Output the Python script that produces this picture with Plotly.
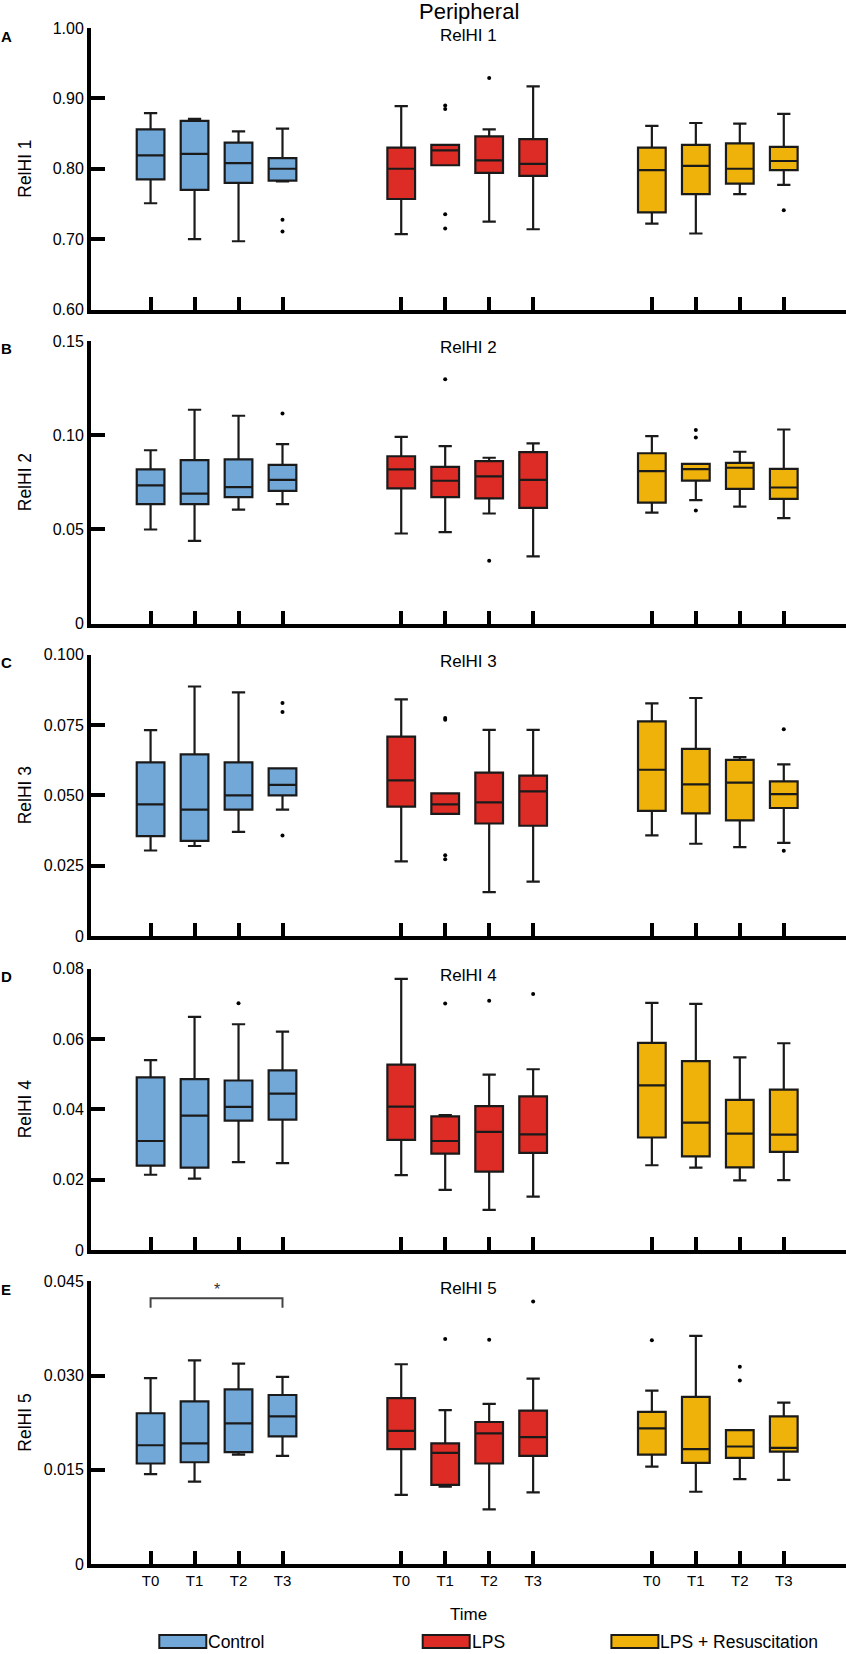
import plotly.graph_objects as go

groups = ["Control", "LPS", "LPS + Resuscitation"]
times = ["T0", "T1", "T2", "T3"]
colors = ["#72a8d8", "#dd2c25", "#efb20a"]
panel_titles = ["RelHI 1", "RelHI 2", "RelHI 3", "RelHI 4", "RelHI 5"]
panel_letters = ["A", "B", "C", "D", "E"]

# Each list: Control T0-T3, LPS T0-T3, LPS+Resus T0-T3
A_lo = [0.751, 0.700, 0.697, 0.782, 0.707, 0.805, 0.725, 0.714, 0.722, 0.708, 0.764, 0.777]
A_q1 = [0.785, 0.770, 0.780, 0.783, 0.757, 0.805, 0.794, 0.790, 0.738, 0.764, 0.779, 0.798]
A_med = [0.819, 0.821, 0.808, 0.800, 0.800, 0.826, 0.812, 0.807, 0.798, 0.804, 0.800, 0.811]
A_q3 = [0.856, 0.868, 0.837, 0.815, 0.830, 0.834, 0.846, 0.842, 0.830, 0.834, 0.836, 0.831]
A_hi = [0.879, 0.871, 0.853, 0.857, 0.889, 0.834, 0.856, 0.917, 0.861, 0.865, 0.864, 0.878]
A_out_idx = [3, 3, 5, 5, 5, 5, 6, 11]
A_out_val = [0.7275, 0.711, 0.890, 0.885, 0.7355, 0.7152, 0.929, 0.741]

B_lo = [0.0499, 0.0439, 0.0605, 0.0634, 0.0478, 0.0485, 0.0584, 0.0356, 0.0589, 0.0655, 0.0621, 0.0559]
B_q1 = [0.0634, 0.0634, 0.0671, 0.0704, 0.0717, 0.0671, 0.0664, 0.0614, 0.0642, 0.0759, 0.0715, 0.0662]
B_med = [0.0733, 0.0690, 0.0724, 0.0763, 0.0818, 0.0758, 0.0781, 0.0763, 0.0809, 0.0820, 0.0827, 0.0722]
B_q3 = [0.0818, 0.0867, 0.0871, 0.0842, 0.0888, 0.0832, 0.0862, 0.0910, 0.0904, 0.0848, 0.0853, 0.0821]
B_hi = [0.0920, 0.1135, 0.1103, 0.0952, 0.0991, 0.0942, 0.0880, 0.0956, 0.0995, 0.0848, 0.0912, 0.1030]
B_out_idx = [3, 5, 6, 9, 9, 9]
B_out_val = [0.1115, 0.1297, 0.0333, 0.1028, 0.0988, 0.0600]

C_lo = [0.0304, 0.0320, 0.0370, 0.0449, 0.0265, 0.0434, 0.0156, 0.0193, 0.0358, 0.0328, 0.0316, 0.0331]
C_q1 = [0.0355, 0.0338, 0.0449, 0.0500, 0.0460, 0.0434, 0.0400, 0.0392, 0.0445, 0.0436, 0.0411, 0.0455]
C_med = [0.0468, 0.0449, 0.0500, 0.0537, 0.0553, 0.0468, 0.0475, 0.0514, 0.0591, 0.0539, 0.0545, 0.0504]
C_q3 = [0.0617, 0.0646, 0.0617, 0.0596, 0.0709, 0.0507, 0.0581, 0.0570, 0.0763, 0.0665, 0.0626, 0.0550]
C_hi = [0.0732, 0.0887, 0.0866, 0.0596, 0.0841, 0.0507, 0.0733, 0.0733, 0.0827, 0.0846, 0.0636, 0.0610]
C_out_idx = [3, 3, 3, 5, 5, 5, 5, 11, 11]
C_out_val = [0.0828, 0.0796, 0.0357, 0.0775, 0.0769, 0.0287, 0.0273, 0.0735, 0.0303]

D_lo = [0.0214, 0.0203, 0.0250, 0.0247, 0.0213, 0.0171, 0.0114, 0.0152, 0.0241, 0.0234, 0.0198, 0.0199]
D_q1 = [0.0240, 0.0234, 0.0368, 0.0371, 0.0313, 0.0274, 0.0223, 0.0276, 0.0320, 0.0266, 0.0235, 0.0279]
D_med = [0.0310, 0.0382, 0.0407, 0.0445, 0.0408, 0.0310, 0.0336, 0.0329, 0.0468, 0.0362, 0.0331, 0.0328]
D_q3 = [0.0491, 0.0486, 0.0482, 0.0511, 0.0527, 0.0380, 0.0409, 0.0437, 0.0589, 0.0537, 0.0427, 0.0456]
D_hi = [0.0540, 0.0663, 0.0642, 0.0621, 0.0771, 0.0384, 0.0499, 0.0514, 0.0703, 0.0700, 0.0548, 0.0588]
D_out_idx = [2, 5, 6, 7]
D_out_val = [0.0702, 0.0701, 0.0709, 0.0728]

E_lo = [0.0143, 0.0131, 0.0174, 0.0172, 0.0110, 0.0123, 0.0087, 0.0114, 0.0155, 0.0115, 0.0135, 0.0134]
E_q1 = [0.0160, 0.0162, 0.0178, 0.0203, 0.0183, 0.0126, 0.0160, 0.0172, 0.0174, 0.0161, 0.0169, 0.0179]
E_med = [0.0189, 0.0192, 0.0224, 0.0235, 0.0212, 0.0177, 0.0208, 0.0202, 0.0216, 0.0183, 0.0187, 0.0185]
E_q3 = [0.0240, 0.0259, 0.0278, 0.0269, 0.0264, 0.0192, 0.0226, 0.0244, 0.0242, 0.0266, 0.0213, 0.0235]
E_hi = [0.0296, 0.0324, 0.0319, 0.0298, 0.0318, 0.0245, 0.0255, 0.0295, 0.0276, 0.0363, 0.0213, 0.0257]
E_out_idx = [5, 6, 7, 8, 10, 10]
E_out_val = [0.0358, 0.0357, 0.0418, 0.0356, 0.0314, 0.0292]

y_ranges = [[0.60, 1.00], [0, 0.15], [0, 0.100], [0, 0.08], [0, 0.045]]
y_tickvals = [
    [0.60, 0.70, 0.80, 0.90, 1.00],
    [0, 0.05, 0.10, 0.15],
    [0, 0.025, 0.050, 0.075, 0.100],
    [0, 0.02, 0.04, 0.06, 0.08],
    [0, 0.015, 0.030, 0.045],
]
y_ticktext = [
    ["0.60", "0.70", "0.80", "0.90", "1.00"],
    ["0", "0.05", "0.10", "0.15"],
    ["0", "0.025", "0.050", "0.075", "0.100"],
    ["0", "0.02", "0.04", "0.06", "0.08"],
    ["0", "0.015", "0.030", "0.045"],
]
sig_pair = [0, 3]          # Control T0 vs Control T3 in RelHI 5
sig_y = [0.0408, 0.0423]   # bracket foot and top
sig_label = "*"

panels = [
    (A_lo, A_q1, A_med, A_q3, A_hi, A_out_idx, A_out_val),
    (B_lo, B_q1, B_med, B_q3, B_hi, B_out_idx, B_out_val),
    (C_lo, C_q1, C_med, C_q3, C_hi, C_out_idx, C_out_val),
    (D_lo, D_q1, D_med, D_q3, D_hi, D_out_idx, D_out_val),
    (E_lo, E_q1, E_med, E_q3, E_hi, E_out_idx, E_out_val),
]

GAP = 5.7
pos = [g * GAP + i for g in range(len(groups)) for i in range(len(times))]

FONT = "Liberation Sans, Arial, sans-serif"
W, H = 846, 1654
ML, MR, MT, MB = 91, 0, 28, 90
plot_h = H - MT - MB

# panel pixel extents (top, bottom) from page top
panel_px = [(28, 309.5), (341, 623.5), (654.7, 936), (968.7, 1250), (1281.3, 1564)]


def py(p):
    return (H - MB - p) / plot_h


fig = go.Figure()
for k, (lo, q1, med, q3, hi, oi, ov) in enumerate(panels):
    n = k + 1
    xa = "x" if n == 1 else f"x{n}"
    ya = "y" if n == 1 else f"y{n}"
    for g, gname in enumerate(groups):
        sl = slice(g * 4, g * 4 + 4)
        fig.add_trace(go.Box(
            x=pos[sl], q1=q1[sl], median=med[sl], q3=q3[sl],
            lowerfence=lo[sl], upperfence=hi[sl],
            width=0.63, whiskerwidth=0.48, boxpoints=False,
            fillcolor=colors[g], line=dict(color="#1a1a1a", width=2.2),
            name=gname, showlegend=False, xaxis=xa, yaxis=ya, hoverinfo="skip",
        ))
    fig.add_trace(go.Scatter(
        x=[pos[i] for i in oi], y=ov, mode="markers",
        marker=dict(color="black", size=4), showlegend=False,
        xaxis=xa, yaxis=ya, hoverinfo="skip",
    ))
    top, bot = panel_px[k]
    fig.layout[f"xaxis{'' if n == 1 else n}"] = dict(
        domain=[0, 1], anchor=ya, range=[-1.355, 15.815],
        showline=True, linewidth=4, linecolor="black", mirror=False,
        ticks="inside", ticklen=13, tickwidth=3.5, tickcolor="black",
        tickvals=pos, ticktext=times * 3, showticklabels=(n == 5),
        tickfont=dict(family=FONT, size=15, color="black"),
        showgrid=False, zeroline=False, fixedrange=True,
    )
    fig.layout[f"yaxis{'' if n == 1 else n}"] = dict(
        domain=[py(bot), py(top)], anchor=xa, range=y_ranges[k],
        showline=True, linewidth=4, linecolor="black",
        ticks="inside", ticklen=14, tickwidth=4, tickcolor="black",
        tickvals=y_tickvals[k], ticktext=y_ticktext[k],
        tickfont=dict(family=FONT, size=16, color="black"),
        showgrid=False, zeroline=False, fixedrange=True,
    )
    # panel title
    fig.add_annotation(text=panel_titles[k], xref="paper", x=0.5, xanchor="center",
                       yref=f"{ya} domain", y=1, yanchor="middle", yshift=-7,
                       showarrow=False, font=dict(family=FONT, size=17, color="black"))
    # y-axis title
    fig.add_annotation(text=panel_titles[k], xref="paper", x=(25 - ML) / (W - ML - MR),
                       xanchor="center", yref=f"{ya} domain", y=0.5, yanchor="middle",
                       textangle=-90, showarrow=False,
                       font=dict(family=FONT, size=17.5, color="black"))
    # panel letter
    fig.add_annotation(text=f"<b>{panel_letters[k]}</b>", xref="paper",
                       x=(6 - ML) / (W - ML - MR), xanchor="center",
                       yref=f"{ya} domain", y=1, yanchor="middle", yshift=-8,
                       showarrow=False, font=dict(family=FONT, size=15, color="black"))

# significance bracket in panel E
x0s, x1s = pos[sig_pair[0]], pos[sig_pair[1]]
fig.add_shape(type="path", xref="x5", yref="y5",
              path=f"M {x0s},{sig_y[0]} L {x0s},{sig_y[1]} L {x1s},{sig_y[1]} L {x1s},{sig_y[0]}",
              line=dict(color="#444444", width=2))
fig.add_annotation(text=sig_label, xref="x5", yref="y5", x=(x0s + x1s) / 2, y=sig_y[1],
                   yanchor="bottom", yshift=-2, showarrow=False,
                   font=dict(family=FONT, size=16, color="#333333"))

# main title
fig.add_annotation(text="Peripheral", xref="paper", x=0.5, xanchor="center",
                   yref="paper", y=py(12), yanchor="middle", showarrow=False,
                   font=dict(family=FONT, size=22, color="black"))
# x title
fig.add_annotation(text="Time", xref="paper", x=0.5, xanchor="center",
                   yref="paper", y=py(1614), yanchor="middle", showarrow=False,
                   font=dict(family=FONT, size=17, color="black"))

# legend (drawn manually)
leg_x = [159.3, 422.7, 611.4]
for g, gname in enumerate(groups):
    x0 = (leg_x[g] - ML) / (W - ML - MR)
    x1 = (leg_x[g] + 47 - ML) / (W - ML - MR)
    fig.add_shape(type="rect", xref="paper", yref="paper", x0=x0, x1=x1,
                  y0=py(1648), y1=py(1635), fillcolor=colors[g],
                  line=dict(color="#1a1a1a", width=2))
    fig.add_annotation(text=gname, xref="paper", x=x1, xanchor="left", xshift=0,
                       yref="paper", y=py(1641.5), yanchor="middle", showarrow=False,
                       font=dict(family=FONT, size=17.5, color="black"))

fig.update_layout(
    width=W, height=H, boxmode="overlay",
    margin=dict(l=ML, r=MR, t=MT, b=MB),
    paper_bgcolor="white", plot_bgcolor="white",
    font=dict(family=FONT, color="black"),
)

fig.write_html(
    "out.html",
    config={"displayModeBar": False},
    post_script="document.body.style.margin='0px';document.body.style.overflow='hidden';",
)
